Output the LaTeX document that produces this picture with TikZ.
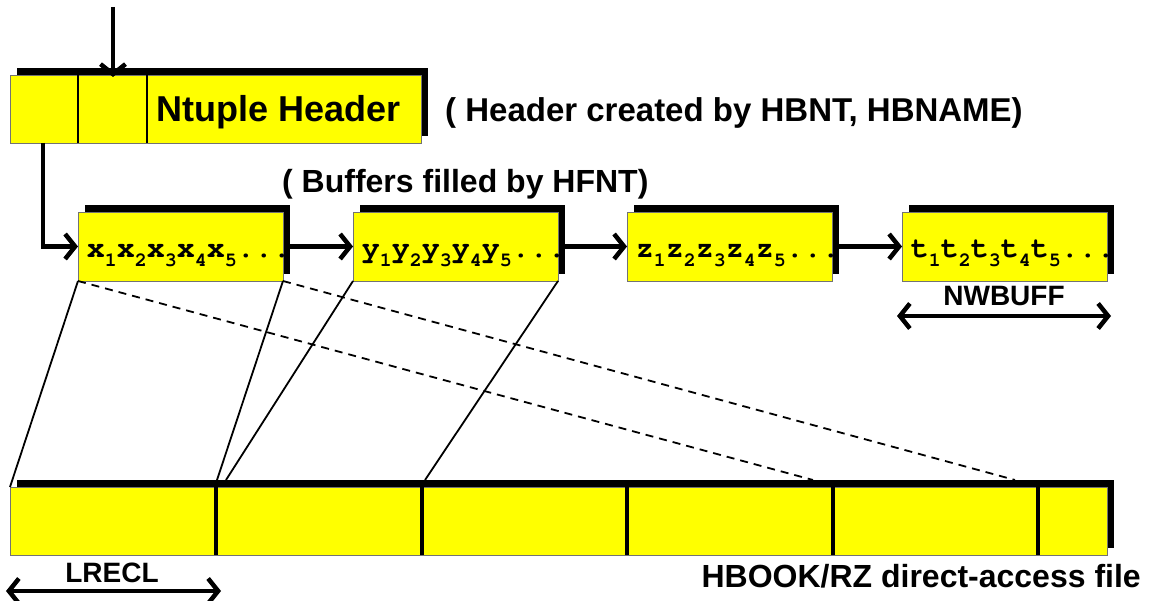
\documentclass[tikz,border=0pt]{standalone}
\usepackage{fontspec}
\setmainfont{Liberation Sans}
\newfontfamily\monob{texgyrecursor}[Extension=.otf, UprightFont=*-regular, BoldFont=*-bold]
\usetikzlibrary{arrows.meta,shadows}
\definecolor{boxyellow}{RGB}{255,255,0}
\newcommand\sbs[1]{\raisebox{-9pt}{\fontsize{20}{20}\selectfont #1}}
\begin{document}
\begin{tikzpicture}[x=1pt,y=-1pt,
  yb/.style={draw=black!55, line width=0.8pt, fill=boxyellow, inner sep=0pt, outer sep=0pt, anchor=north west,
     general shadow={fill=black, shadow xshift=7pt, shadow yshift=7pt}},
  bt/.style={inner sep=0pt, anchor=base east, font=\monob\bfseries\fontsize{30}{30}\selectfont},
  lab/.style={inner sep=0pt, font=\bfseries\fontsize{#1}{#1}\selectfont},
  tip/.style={},
  arr/.style={line width=4.5pt, -{Straight Barb[length=10pt,width=25pt,line width=4.5pt]}},
  darr/.style={line width=4.5pt, {Straight Barb[length=10pt,width=25pt,line width=4.5pt]}-{Straight Barb[length=10pt,width=25pt,line width=4.5pt]}},
  conn/.style={line width=1.8pt},
  divider/.style={line width=4pt}
]
\useasboundingbox (0,0) rectangle (1149,601);

% header
\node[yb, minimum width=411pt, minimum height=68pt] (hdr) at (10,75) {};
\draw[line width=2pt] (78,75) -- (78,143);
\draw[line width=2pt] (147,75) -- (147,143);
\node[lab=36, anchor=base west] (hdrtext) at (156,122) {Ntuple Header};
\node[lab=33, anchor=base west] (hdrnote) at (445,122) {( Header created by HBNT, HBNAME)};
\node[lab=32, anchor=base west] (bufnote) at (282,193) {( Buffers filled by HFNT)};

% buffers
\node[yb, minimum width=205pt, minimum height=69pt] (b1) at (78,212) {};
\node[yb, minimum width=205pt, minimum height=69pt] (b2) at (353,212) {};
\node[yb, minimum width=205pt, minimum height=69pt] (b3) at (627,212) {};
\node[yb, minimum width=205pt, minimum height=69pt] (b4) at (902,212) {};
\node[bt] (t1) at (291,258) {x\sbs1x\sbs2x\sbs3x\sbs4x\sbs5...};
\node[bt] (t2) at (566,258) {y\sbs1y\sbs2y\sbs3y\sbs4y\sbs5...};
\node[bt] (t3) at (840,258) {z\sbs1z\sbs2z\sbs3z\sbs4z\sbs5...};
\node[bt] (t4) at (1115,258) {t\sbs1t\sbs2t\sbs3t\sbs4t\sbs5...};

% arrows
\coordinate (topin) at (113,7);
\coordinate (hin) at (113,77);
\draw[arr] (topin) -- (hin);
\coordinate (hout) at (43,143);
\draw[arr] (hout) |- (b1.west);
\draw[arr] ([xshift=7pt]b1.east) -- (b2.west);
\draw[arr] ([xshift=7pt]b2.east) -- (b3.west);
\draw[arr] ([xshift=7pt]b3.east) -- (b4.west);

% strip
\node[yb, minimum width=1097pt, minimum height=68pt] (strip) at (10,487) {};
\foreach \x in {216,422,627,833,1038} \draw[divider] (\x,480) -- (\x,555);

% connectors
\coordinate (p2) at (217,480);
\coordinate (p3) at (226,480);
\coordinate (p4) at (425,480);
\coordinate (p5) at (813,480);
\coordinate (p6) at (1015,480);
\draw[conn] (b1.south west) -- (strip.north west);
\draw[conn] (b1.south east) -- (p2);
\draw[conn] (b2.south west) -- (p3);
\draw[conn] (b2.south east) -- (p4);
\draw[conn, dash pattern=on 8pt off 6pt] (b1.south west) -- (p5);
\draw[conn, dash pattern=on 8pt off 6pt] (b1.south east) -- (p6);

% dimension arrows
\coordinate (nwl) at (897,316);
\coordinate (nwr) at (1111,316);
\draw[darr] (nwl) -- (nwr);
\node[lab=28, anchor=base] (nw) at (1004,306) {NWBUFF};
\coordinate (lrl) at (6,591);
\coordinate (lrr) at (221,591);
\draw[darr] (lrl) -- (lrr);
\node[lab=28, anchor=base] (lr) at (112,582) {LRECL};
\node[lab=32, anchor=base east] (hb) at (1141,587) {HBOOK/RZ direct-access file};
\end{tikzpicture}
\end{document}
